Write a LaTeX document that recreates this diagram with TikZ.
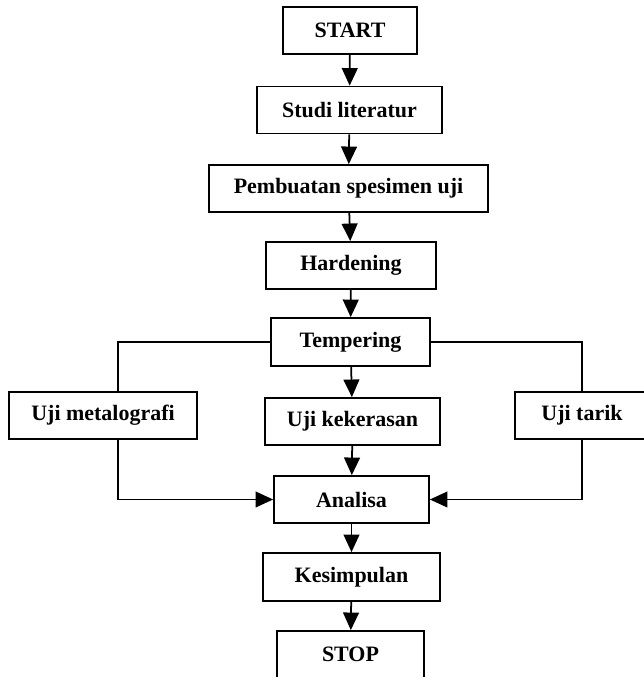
\documentclass[tikz,border=0pt]{standalone}
\usepackage{fontspec}
\setmainfont{Liberation Serif}
\usetikzlibrary{arrows.meta}
\usetikzlibrary{positioning}

\tikzset{
  langkah/.style={draw=black, line width=1pt, minimum height=0.94cm,
    inner sep=0pt, font=\fontsize{12.5}{15}\selectfont\bfseries},
  >={Triangle[width=9pt,length=10pt]}
}

\begin{document}
\begin{tikzpicture}
  \useasboundingbox (0,0) rectangle (12.88,13.54);
  % kolom tengah
  \node[langkah, minimum width=2.68cm] (start) at (7.00,12.93) {START};
  \node[langkah, minimum width=3.70cm] (studi) at (6.99,11.34) {Studi literatur};
  \node[langkah, minimum width=5.58cm] (spesimen) at (6.97,9.77) {Pembuatan spesimen uji};
  \node[langkah, minimum width=3.40cm] (harden) at (7.02,8.23) {Hardening};
  \node[langkah, minimum width=3.18cm, minimum height=0.96cm] (temper) at (7.01,6.70) {Tempering};
  % tiga pengujian
  \node[langkah, minimum width=3.76cm] (metalo) at (2.06,5.23) {Uji metalografi};
  \node[langkah, minimum width=3.50cm] (keras) at (7.05,5.11) {Uji kekerasan};
  \node[langkah, minimum width=2.68cm] (tarik) at (11.64,5.23) {Uji tarik};
  \node[langkah, minimum width=3.10cm] (analisa) at (7.03,3.55) {Analisa};
  \node[langkah, minimum width=3.54cm, minimum height=0.96cm] (simpul) at (7.03,2.00) {Kesimpulan};
  \node[langkah, minimum width=2.94cm] (stop) at (7.01,0.45) {STOP};
  \coordinate (kiri) at (2.36,6.70);

  \draw[line width=1pt,->] (start) -- (studi);
  \draw[line width=1pt,->] (studi) -- (spesimen);
  \draw[line width=1pt,->] (spesimen) -- (harden);
  \draw[line width=1pt,->] (harden) -- (temper);
  \draw[line width=1pt,->] (temper) -- (keras);
  \draw[line width=1pt,->] (keras) -- (analisa);
  \draw[line width=1pt,->] (analisa) -- (simpul);
  \draw[line width=1pt,->] (simpul) -- (stop);

  \draw[line width=0.8pt] (temper.west) -- (kiri) -- (kiri |- metalo.north);
  \draw[line width=0.8pt] (temper.east) -| (tarik.north);
  \draw[line width=0.8pt,->] (kiri |- metalo.south) |- (analisa.west);
  \draw[line width=0.8pt,->] (tarik.south) |- (analisa.east);
\end{tikzpicture}
\end{document}
